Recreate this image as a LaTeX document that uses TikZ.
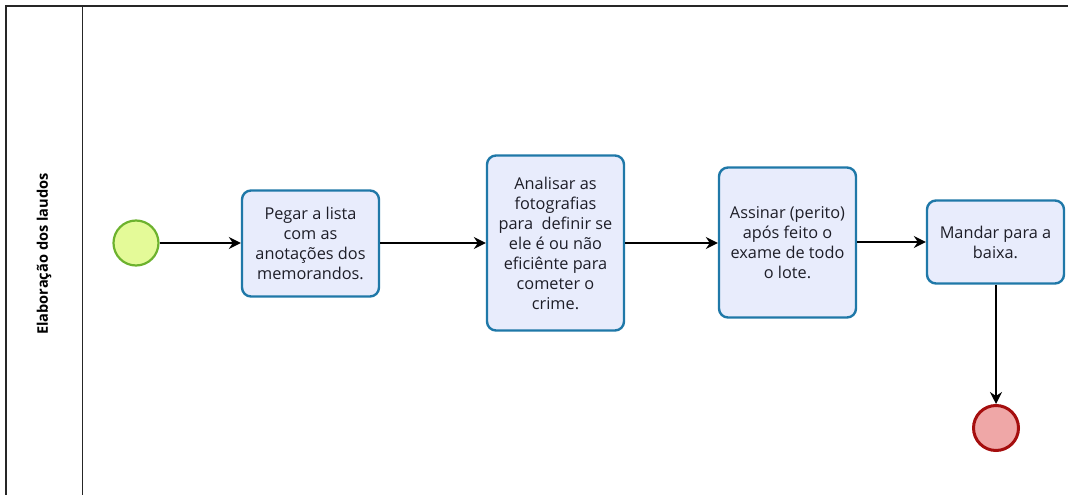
\documentclass[tikz,border=0pt]{standalone}
\usepackage{fontspec}
\setmainfont{Open Sans}
\usetikzlibrary{arrows.meta}
\definecolor{taskfill}{HTML}{E8ECFC}
\definecolor{taskline}{HTML}{1F78A8}
\definecolor{startfill}{HTML}{E4FA98}
\definecolor{startline}{HTML}{6DB22E}
\definecolor{endfill}{HTML}{EFA7A7}
\definecolor{endline}{HTML}{A50E0E}
\definecolor{txt}{HTML}{1E1E28}
\tikzset{
  task/.style={draw=taskline, fill=taskfill, line width=2.4pt, rounded corners=9pt,
    minimum width=137pt, align=center, text=txt, inner sep=0pt,
    font=\fontsize{16.3}{20}\selectfont},
  startev/.style={circle, draw=startline, fill=startfill, line width=2.2pt, minimum size=45pt, inner sep=0pt},
  endev/.style={circle, draw=endline, fill=endfill, line width=3pt, minimum size=45pt, inner sep=0pt},
  flow/.style={-{Stealth[length=12pt,width=12pt,inset=4pt]}, line width=1.5pt, draw=black},
  lane/.style={line width=1.4pt, draw=black!85}
}
\begin{document}
\begin{tikzpicture}[x=1pt,y=-1pt]
\useasboundingbox (0,0) rectangle (1068,495);
% pool frame and lane header
\draw[lane] (6,495) -- (6,6) -- (1068,6);
\draw[lane] (82.5,6) -- (82.5,495);
\node[rotate=90, font=\bfseries\fontsize{14.6}{16}\selectfont, text=black] (lanelabel) at (44,254) {Elaboração dos laudos};
% events and tasks
\node[startev] (start) at (136,243) {};
\node[task, minimum height=106pt] (t1) at (310.5,243.5) {Pegar a lista\\com as\\anotações dos\\memorandos.};
\node[task, minimum height=175pt] (t2) at (555.5,243) {Analisar as\\fotografias\\para\ \ definir se\\ele é ou não\\eficiênte para\\cometer o\\crime.};
\node[task, minimum height=150pt] (t3) at (787.5,242.5) {Assinar (perito)\\após feito o\\exame de todo\\o lote.};
\node[task, minimum height=83pt] (t4) at (995.5,242) {Mandar para a\\baixa.};
\node[endev] (end) at (996,428) {};
% sequence flows
\draw[flow] (start.east) -- (t1.west |- start.east);
\draw[flow] (t1.east |- 0,243) -- (t2.west |- 0,243);
\draw[flow] (t2.east |- 0,243) -- (t3.west |- 0,243);
\draw[flow] (t3.east |- 0,242) -- (t4.west |- 0,242);
\draw[flow] (t4.south -| end.north) -- (end.north);
\end{tikzpicture}
\end{document}
